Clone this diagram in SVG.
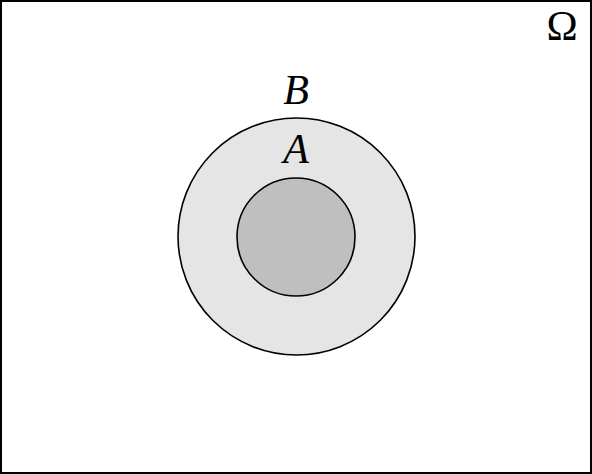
<svg xmlns="http://www.w3.org/2000/svg" width="592" height="474" viewBox="0 0 592 474">
<style>
.lbl{font-family:"Liberation Serif","DejaVu Serif",serif;font-size:42px;fill:#000;text-anchor:middle}
.it{font-style:italic}
.c{stroke:#000;stroke-width:1.6}
</style>
<rect x="0" y="0" width="592" height="474" fill="#fff"/>
<g id="omega">
<rect x="1" y="1" width="590" height="472" fill="none" stroke="#000" stroke-width="2"/>
<text class="lbl" x="562" y="40">Ω</text>
</g>
<g id="B">
<circle class="c" cx="296.5" cy="236.5" r="118.5" fill="#e5e5e5"/>
<text class="lbl it" x="296" y="104">B</text>
</g>
<g id="A">
<circle class="c" cx="296" cy="237" r="59" fill="#bfbfbf"/>
<text class="lbl it" x="296" y="163">A</text>
</g>
<g id="connectors"/>
</svg>
